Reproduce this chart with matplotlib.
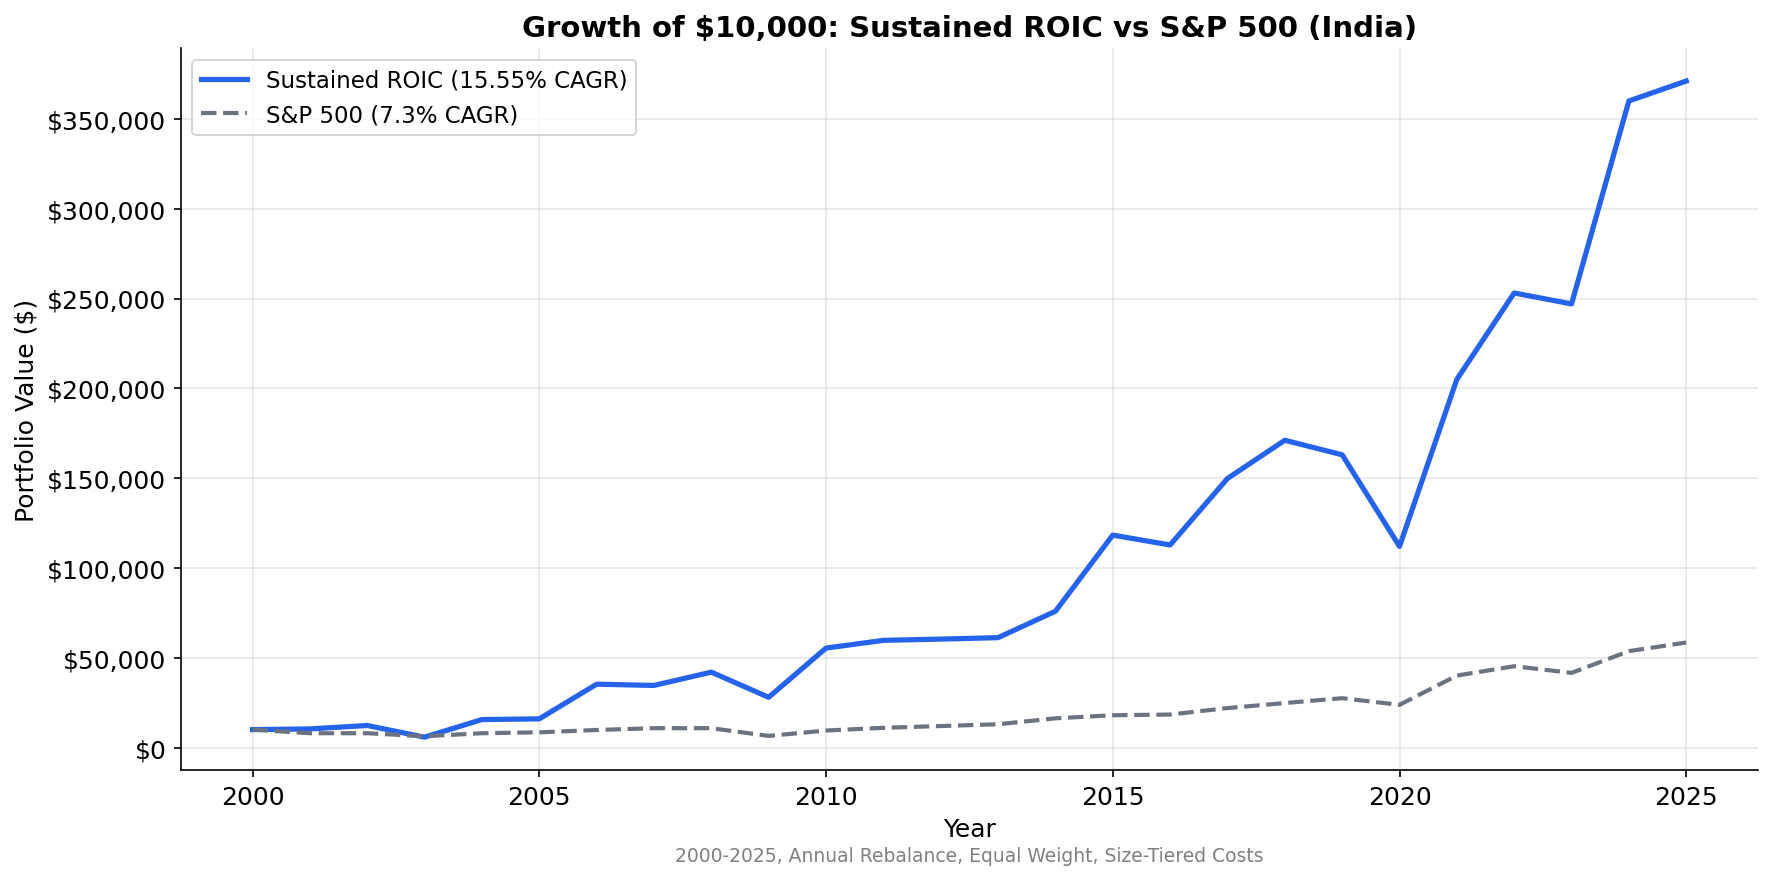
import matplotlib
matplotlib.use("Agg")
import matplotlib.pyplot as plt
from matplotlib.ticker import FuncFormatter

years = list(range(2000, 2026))
roic_values = [10000, 10400, 12300, 5800, 15600, 16000, 35300, 34600, 42000, 28000,
               55400, 59700, 60400, 61200, 75900, 118300, 112800, 149800, 171100, 163000,
               112000, 205000, 253100, 247000, 360000, 371100]
sp500_values = [10000, 8000, 8000, 6300, 8000, 8500, 9800, 10800, 10800, 6500,
                9500, 11000, 12000, 13000, 16300, 18000, 18400, 22000, 24800, 27500,
                23800, 40100, 45300, 41600, 53700, 58500]
roic_label = "Sustained ROIC (15.55% CAGR)"
sp_label = "S&P 500 (7.3% CAGR)"
title = "Growth of $10,000: Sustained ROIC vs S&P 500 (India)"
subtitle = "2000-2025, Annual Rebalance, Equal Weight, Size-Tiered Costs"

fig = plt.figure(figsize=(11.82, 5.853), dpi=150)
ax_rect = [0.102, 0.1219, 0.8895, 0.8221]
ax = fig.add_axes(ax_rect)

ax.plot(years, roic_values, color="#2563eb", linewidth=2.5, label=roic_label)
ax.plot(years, sp500_values, color="#6b7280", linewidth=2, linestyle="--", label=sp_label)

ax.set_title(title, fontsize=14, fontweight="bold", pad=6)
ax.set_xlabel("Year", fontsize=12)
ax.set_ylabel("Portfolio Value ($)", fontsize=12)
ax.yaxis.set_major_formatter(FuncFormatter(lambda v, p: f"${v:,.0f}"))
ax.tick_params(labelsize=12)
ax.grid(True, alpha=0.3)
ax.spines["top"].set_visible(False)
ax.spines["right"].set_visible(False)
ax.legend(loc="upper left", fontsize=11)

fig.text(ax_rect[0] + ax_rect[2] / 2, 0.025, subtitle, ha="center", va="center",
         fontsize=9, color="gray")

fig.savefig("out.png", dpi=150)
